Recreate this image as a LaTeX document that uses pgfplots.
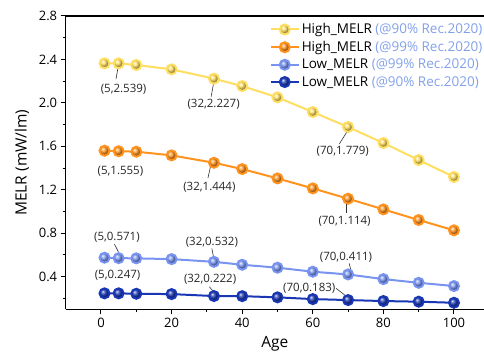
\documentclass[border=0pt]{standalone}
\usepackage{fontspec}
\setmainfont{Open Sans}
\usepackage{pgfplots}
\pgfplotsset{compat=1.18}
\usetikzlibrary{plotmarks}
\definecolor{cY}{RGB}{254,222,96}
\definecolor{cO}{RGB}{255,147,30}
\definecolor{cLB}{RGB}{120,148,240}
\definecolor{cDB}{RGB}{25,55,180}
\definecolor{cLeg}{RGB}{130,160,235}
\pgfplotstableread{
x hi90 hi99 lo99 lo90
1 2.364 1.560 0.575 0.247
5 2.364 1.555 0.571 0.247
10 2.349 1.551 0.569 0.243
20 2.309 1.517 0.562 0.240
32 2.223 1.449 0.537 0.222
40 2.155 1.391 0.510 0.221
50 2.051 1.305 0.483 0.210
60 1.916 1.213 0.446 0.194
70 1.778 1.118 0.421 0.185
80 1.631 1.020 0.378 0.176
90 1.474 0.922 0.344 0.170
100 1.318 0.827 0.314 0.160
}\datatab
\begin{document}
\begin{tikzpicture}
\begin{axis}[name=ax, scale only axis, width=418.3pt, height=293.3pt,
  xmin=-10, xmax=108.5, ymin=0.1, ymax=2.8,
  separate axis lines, axis x line*=box, axis y line*=left,
  axis line style={line width=1.1pt, black},
  xtick={0,20,40,60,80,100}, minor xtick={10,30,50,70,90},
  ytick={0.4,0.8,1.2,1.6,2.0,2.4,2.8}, minor ytick={0.2,0.6,1.0,1.4,1.8,2.2,2.6},
  yticklabel style={/pgf/number format/.cd, fixed, fixed zerofill, precision=1},
  xtick pos=bottom, ytick pos=left,
  tick align=outside, major tick length=5pt, minor tick length=3pt,
  tick style={line width=1pt, black},
  /pgf/number format/assume math mode=true,
  ticklabel style={font=\fontsize{13}{15}\selectfont},
  xlabel={Age}, ylabel={MELR (mW/lm)},
  label style={font=\fontsize{15.5}{18}\selectfont},
  ylabel style={yshift=3pt}, xlabel style={yshift=-2pt},
  legend style={draw=none, fill=none, at={(rel axis cs:0.485,0.985)}, anchor=north west,
    font=\fontsize{13.5}{15}\selectfont, row sep=2pt, inner sep=1pt},
  legend cell align=left,
  legend image code/.code={\draw[mark repeat=2,mark phase=2] plot coordinates {(0pt,0pt) (14pt,0pt) (28pt,0pt)};},
  every axis plot/.append style={line width=2pt, mark=ball, mark size=5pt},
]
\addplot[cY, mark options={ball color=cY}] table[x=x,y=hi90]{\datatab};
\addlegendentry{High\_MELR \textcolor{cLeg}{(@90\% Rec.2020)}}
\addplot[cO, mark options={ball color=cO}] table[x=x,y=hi99]{\datatab};
\addlegendentry{High\_MELR \textcolor{cLeg}{(@99\% Rec.2020)}}
\addplot[cLB, mark options={ball color=cLB}] table[x=x,y=lo99]{\datatab};
\addlegendentry{Low\_MELR \textcolor{cLeg}{(@99\% Rec.2020)}}
\addplot[cDB, mark options={ball color=cDB}] table[x=x,y=lo90]{\datatab};
\addlegendentry{Low\_MELR \textcolor{cLeg}{(@90\% Rec.2020)}}
\begin{scope}[every node/.style={font=\fontsize{11.5}{13}\selectfont, text=black!85}]
\node at (axis cs:6.4,2.128) {(5,2.539)};
\node at (axis cs:31.9,1.987) {(32,2.227)};
\node at (axis cs:5.5,1.373) {(5,1.555)};
\node at (axis cs:30.7,1.223) {(32,1.444)};
\node at (axis cs:4.5,0.759) {(5,0.571)};
\node at (axis cs:31.4,0.719) {(32,0.532)};
\node at (axis cs:4.7,0.409) {(5,0.247)};
\node at (axis cs:30.9,0.378) {(32,0.222)};
\node at (axis cs:68.5,1.557) {(70,1.779)};
\node at (axis cs:69,0.912) {(70,1.114)};
\node at (axis cs:69.4,0.575) {(70,0.411)};
\node at (axis cs:59.0,0.298) {(70,0.183)};
\end{scope}
\begin{scope}[black!80, line width=0.6pt]
\draw (axis cs:4.8,2.321) -- (axis cs:4.25,2.220);
\draw (axis cs:31.9,2.183) -- (axis cs:31.2,2.057);
\draw (axis cs:31.0,1.412) -- (axis cs:30.3,1.308);
\draw (axis cs:3.8,0.701) -- (axis cs:4.9,0.630);
\draw (axis cs:31.4,0.661) -- (axis cs:31.9,0.578);
\draw (axis cs:30.7,0.307) -- (axis cs:31.9,0.261);
\draw (axis cs:69.7,1.735) -- (axis cs:67.5,1.621);
\draw (axis cs:69.4,1.075) -- (axis cs:69.4,0.989);
\draw (axis cs:70.3,0.523) -- (axis cs:70.8,0.461);
\draw (axis cs:66.6,0.293) -- (axis cs:69.7,0.215);
\end{scope}
\end{axis}
\pgfresetboundingbox
\path[use as bounding box] (ax.south west) ++(-65.7pt,-46.7pt) rectangle ++(484pt,356pt);
\end{tikzpicture}
\end{document}
